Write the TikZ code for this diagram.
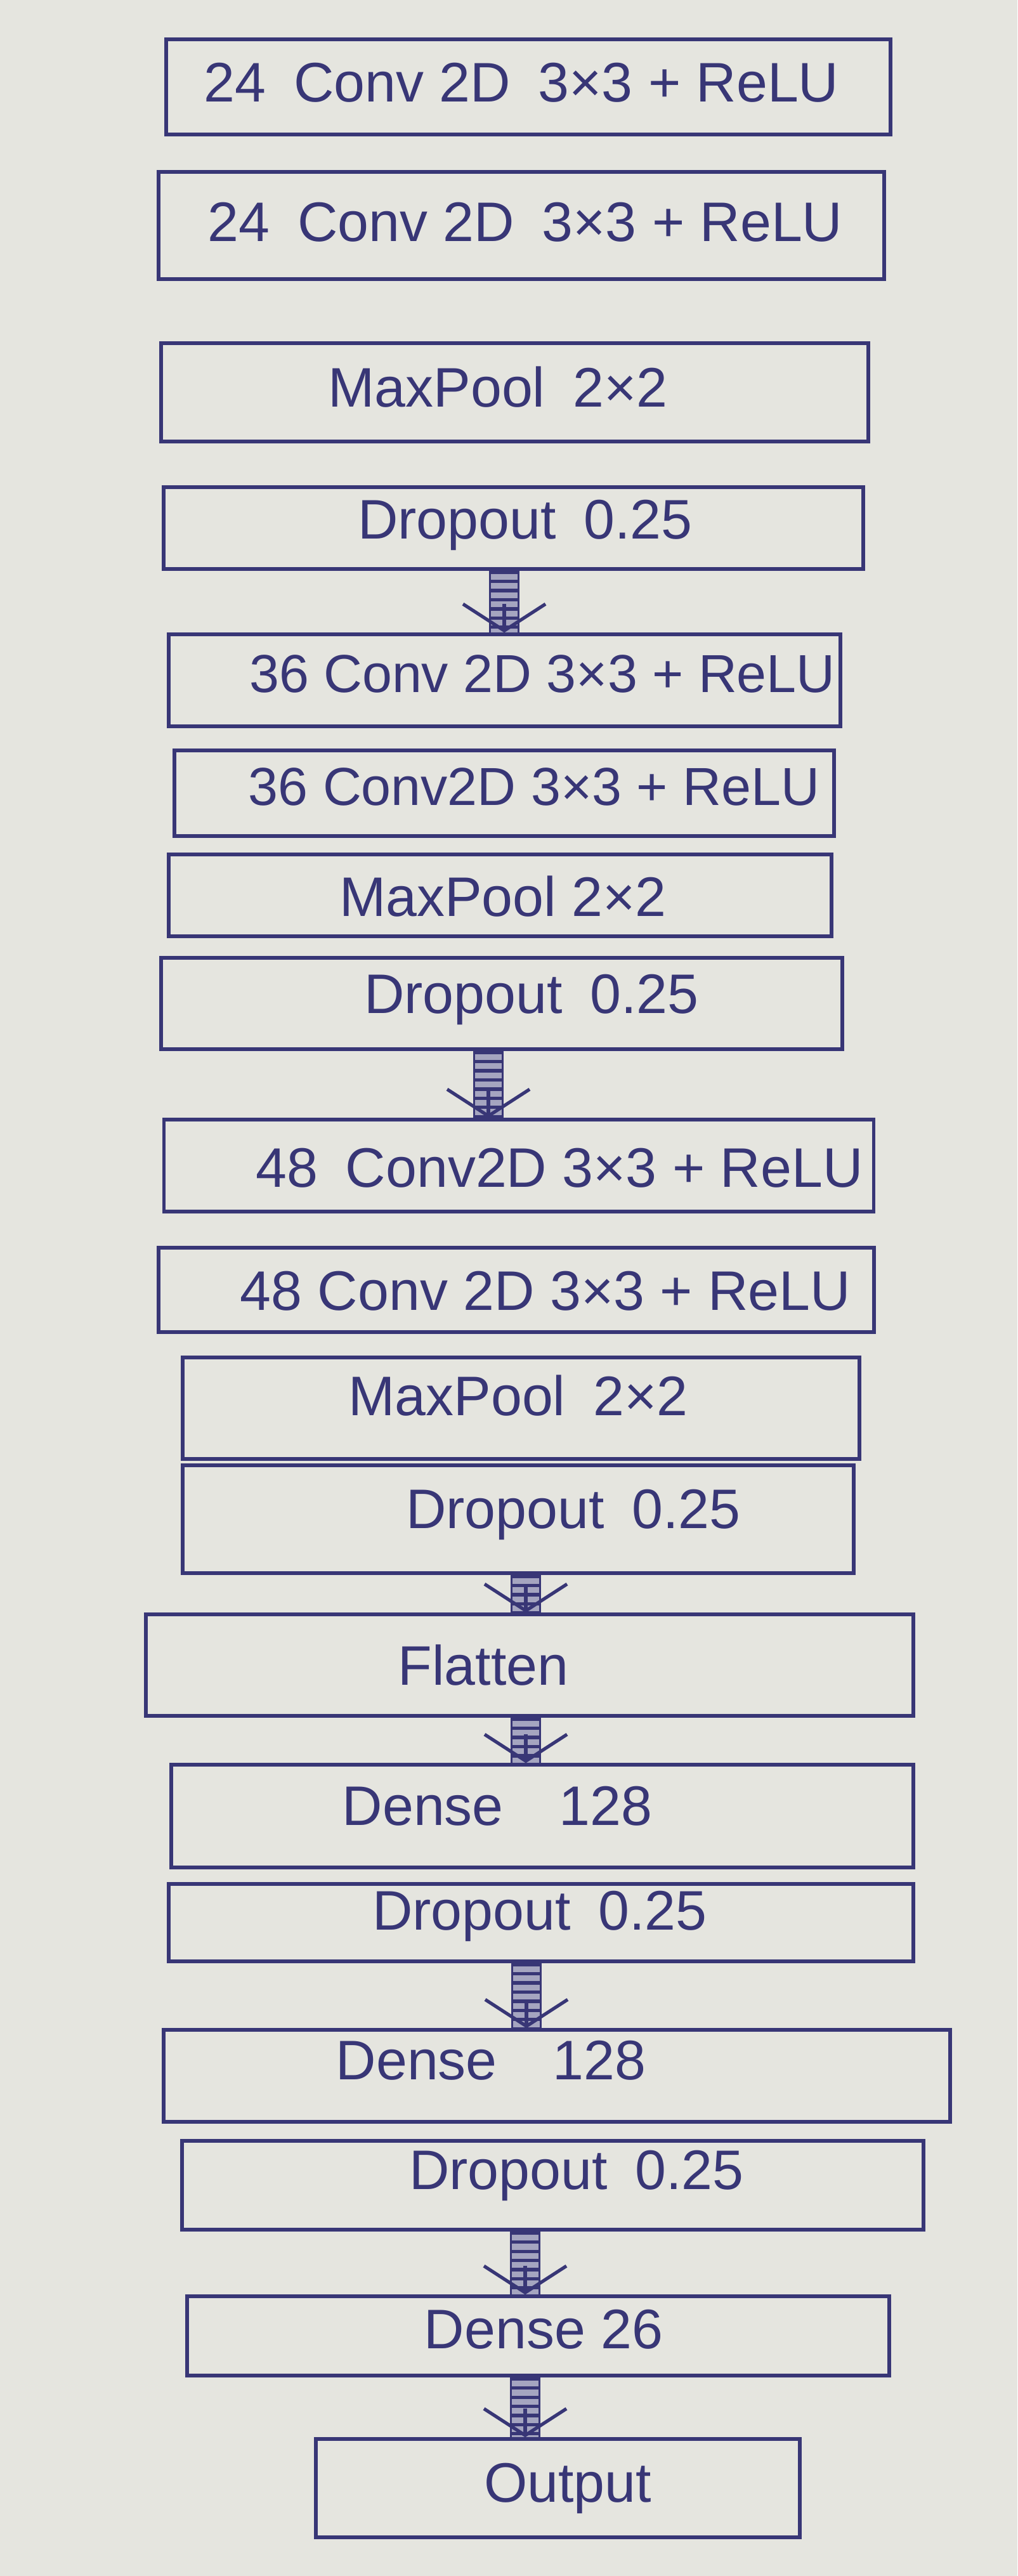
\documentclass[tikz,border=0pt]{standalone}
\usepackage{fontspec}
\setmainfont{Liberation Sans}
\usetikzlibrary{calc,arrows.meta}
\definecolor{paper}{RGB}{229,229,223}
\definecolor{ink}{RGB}{56,54,118}
\definecolor{shaftfill}{RGB}{165,165,192}
\tikzset{
  box/.style={draw=ink, line width=1.5pt, rectangle, inner sep=0pt},
  lbl/.style={text=ink, font=\fontsize{25}{30}\selectfont, inner sep=0pt},
  lblc/.style={lbl, font=\fontsize{24}{29}\selectfont},
  shaft/.style={draw=ink, line width=0.42cm, dash pattern=on 1.5pt off 2.6pt,
    preaction={draw=ink, solid, line width=0.48cm},
    preaction={draw=shaftfill, solid, line width=0.42cm}},
  arrowtip/.style={draw=ink, line width=1.5pt,
    -{Straight Barb[length=0.42cm, width=1.3cm, line width=1.5pt]}}
}
\begin{document}
\begin{tikzpicture}
\fill[paper] (0,0) rectangle (16.04,-40.61);
\useasboundingbox (0,0) rectangle (16.04,-40.61);

% boxes
\node[box, minimum width=11.42cm, minimum height=1.50cm] (c1) at (8.33,-1.37) {};
\node[box, minimum width=11.44cm, minimum height=1.69cm] (c2) at (8.22,-3.555) {};
\node[box, minimum width=11.15cm, minimum height=1.55cm] (m1) at (8.115,-6.185) {};
\node[box, minimum width=11.03cm, minimum height=1.29cm] (d1) at (8.095,-8.325) {};
\node[box, minimum width=10.59cm, minimum height=1.45cm] (c3) at (7.955,-10.725) {};
\node[box, minimum width=10.40cm, minimum height=1.35cm] (c4) at (7.95,-12.505) {};
\node[box, minimum width=10.45cm, minimum height=1.29cm] (m2) at (7.885,-14.115) {};
\node[box, minimum width=10.74cm, minimum height=1.44cm] (d2) at (7.91,-15.82) {};
\node[box, minimum width=11.19cm, minimum height=1.45cm] (c5) at (8.18,-18.375) {};
\node[box, minimum width=11.28cm, minimum height=1.33cm] (c6) at (8.14,-20.335) {};
\node[box, minimum width=10.67cm, minimum height=1.60cm] (m3) at (8.215,-22.20) {};
\node[box, minimum width=10.58cm, minimum height=1.70cm] (d3) at (8.17,-23.95) {};
\node[box, minimum width=12.10cm, minimum height=1.60cm] (fl) at (8.35,-26.25) {};
\node[box, minimum width=11.70cm, minimum height=1.62cm] (de1) at (8.55,-28.63) {};
\node[box, minimum width=11.74cm, minimum height=1.22cm] (d4) at (8.53,-30.31) {};
\node[box, minimum width=12.40cm, minimum height=1.45cm] (de2) at (8.78,-32.725) {};
\node[box, minimum width=11.69cm, minimum height=1.40cm] (d5) at (8.715,-34.45) {};
\node[box, minimum width=11.07cm, minimum height=1.25cm] (de3) at (8.485,-36.825) {};
\node[box, minimum width=7.63cm, minimum height=1.55cm] (out) at (8.795,-39.225) {};

% texts
\node[lbl] (t1) at (8.22,-1.30) {24\enspace Conv 2D\enspace 3×3 + ReLU};
\node[lbl] (t2) at (8.28,-3.50) {24\enspace Conv 2D\enspace 3×3 + ReLU};
\node[lbl] (t3) at (7.85,-6.10) {MaxPool\enspace 2×2};
\node[lbl] (t4) at (8.28,-8.28) {Dropout\enspace 0.25};
\node[lblc] (t5) at (8.55,-10.62) {36 Conv 2D 3×3 + ReLU};
\node[lblc] (t6) at (8.42,-12.40) {36 Conv2D 3×3 + ReLU};
\node[lbl] (t7) at (7.93,-14.13) {MaxPool 2×2};
\node[lbl] (t8) at (8.38,-15.76) {Dropout\enspace 0.25};
\node[lbl] (t9) at (8.82,-18.41) {48\enspace Conv2D 3×3 + ReLU};
\node[lbl] (t10) at (8.60,-20.35) {48 Conv 2D 3×3 + ReLU};
\node[lbl] (t11) at (8.17,-22.00) {MaxPool\enspace 2×2};
\node[lbl] (t12) at (9.04,-23.88) {Dropout\enspace 0.25};
\node[lbl] (t13) at (7.62,-26.25) {Flatten};
\node[lbl] (t14) at (7.84,-28.47) {Dense\quad 128};
\node[lbl] (t15) at (8.51,-30.21) {Dropout\enspace 0.25};
\node[lbl] (t16) at (7.74,-32.48) {Dense\quad 128};
\node[lbl] (t17) at (9.09,-34.30) {Dropout\enspace 0.25};
\node[lbl] (t18) at (8.57,-36.72) {Dense 26};
\node[lbl] (t19) at (8.95,-39.23) {Output};

% arrow columns
\coordinate (ax1) at (7.95,0);
\coordinate (ax2) at (7.70,0);
\coordinate (ax3) at (8.29,0);
\coordinate (ax4) at (8.29,0);
\coordinate (ax5) at (8.30,0);
\coordinate (ax6) at (8.28,0);
\coordinate (ax7) at (8.28,0);

% connectors
\draw[shaft] (ax1 |- d1.south) -- (ax1 |- c3.north);
\draw[arrowtip] ($(ax1 |- c3.north)+(0,0.45)$) -- (ax1 |- c3.north);
\draw[shaft] (ax2 |- d2.south) -- (ax2 |- c5.north);
\draw[arrowtip] ($(ax2 |- c5.north)+(0,0.45)$) -- (ax2 |- c5.north);
\draw[shaft] (ax3 |- d3.south) -- (ax3 |- fl.north);
\draw[arrowtip] ($(ax3 |- fl.north)+(0,0.45)$) -- (ax3 |- fl.north);
\draw[shaft] (ax4 |- fl.south) -- (ax4 |- de1.north);
\draw[arrowtip] ($(ax4 |- de1.north)+(0,0.45)$) -- (ax4 |- de1.north);
\draw[shaft] (ax5 |- d4.south) -- (ax5 |- de2.north);
\draw[arrowtip] ($(ax5 |- de2.north)+(0,0.45)$) -- (ax5 |- de2.north);
\draw[shaft] (ax6 |- d5.south) -- (ax6 |- de3.north);
\draw[arrowtip] ($(ax6 |- de3.north)+(0,0.45)$) -- (ax6 |- de3.north);
\draw[shaft] (ax7 |- de3.south) -- (ax7 |- out.north);
\draw[arrowtip] ($(ax7 |- out.north)+(0,0.45)$) -- (ax7 |- out.north);
\end{tikzpicture}
\end{document}
